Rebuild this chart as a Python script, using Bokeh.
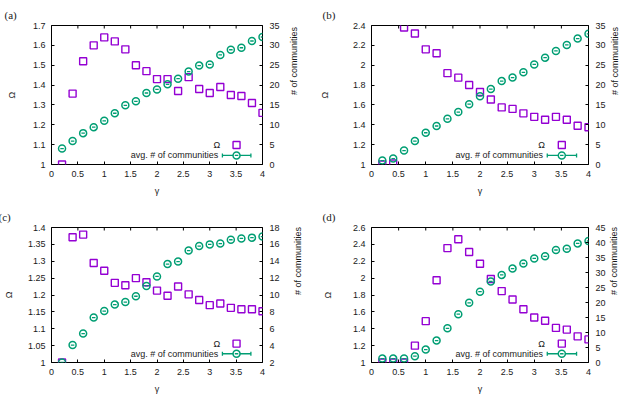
import numpy as np
from bokeh.plotting import figure
from bokeh.models import Range1d, LinearAxis, FixedTicker, CustomJSTickFormatter
from bokeh.layouts import gridplot
from bokeh.embed import file_html
from bokeh.resources import INLINE
from bokeh.core.properties import value

# resolution parameter values shared by all four panels
gamma = [0.2, 0.4, 0.6, 0.8, 1.0, 1.2, 1.4, 1.6, 1.8, 2.0,
         2.2, 2.4, 2.6, 2.8, 3.0, 3.2, 3.4, 3.6, 3.8, 4.0]

# (a)
omega_a = [1.00, 1.357, 1.52, 1.60, 1.64, 1.62, 1.58, 1.50, 1.47, 1.43,
           1.43, 1.37, 1.44, 1.38, 1.36, 1.39, 1.35, 1.345, 1.31, 1.26]
comm_a = [4.0, 5.9, 7.9, 9.4, 11.0, 12.9, 14.9, 15.9, 18.0, 18.9,
          20.2, 21.6, 23.4, 24.9, 25.2, 27.6, 28.9, 29.4, 31.1, 32.1]

# (b)
omega_b = [1.00, 1.01, 2.38, 2.32, 2.16, 2.12, 1.92, 1.875, 1.80, 1.73,
           1.655, 1.575, 1.56, 1.515, 1.48, 1.45, 1.48, 1.45, 1.39, 1.375]
comm_b = [1.0, 1.5, 3.5, 5.9, 8.0, 9.7, 11.5, 13.2, 15.2, 17.2,
          19.0, 21.0, 21.9, 23.2, 25.2, 26.9, 28.6, 30.1, 31.7, 32.9]

# (c)
omega_c = [1.00, 1.371, 1.379, 1.295, 1.272, 1.236, 1.229, 1.25, 1.238, 1.213,
           1.198, 1.225, 1.202, 1.185, 1.17, 1.175, 1.162, 1.158, 1.158, 1.152]
comm_c = [2.0, 4.06, 5.43, 7.33, 8.1, 8.86, 9.16, 9.85, 11.07, 12.2,
          13.66, 13.96, 15.26, 15.8, 16.0, 16.1, 16.55, 16.7, 16.8, 16.93]

# (d)
omega_d = [1.00, 1.00, 1.00, 1.20, 1.49, 1.975, 2.356, 2.46, 2.31, 2.17,
           1.99, 1.846, 1.747, 1.632, 1.533, 1.495, 1.41, 1.39, 1.31, 1.274]
comm_d = [1.3, 1.3, 1.3, 2.1, 4.3, 7.3, 11.4, 16.1, 19.9, 23.6,
          27.0, 29.2, 31.3, 33.0, 34.7, 35.4, 37.5, 37.9, 39.7, 40.5]

x_ticks = [0, 0.5, 1, 1.5, 2, 2.5, 3, 3.5, 4]

PURPLE = "#9400d3"
GREEN = "#009e73"
FONT = "Liberation Sans"
TXT = "#1a1a1a"
W, H = 314, 198

fmt = CustomJSTickFormatter(code="return String(parseFloat(tick.toFixed(3)));")


def style_axis(ax, standoff, label_standoff):
    ax.axis_line_color = None
    ax.major_tick_in = 3
    ax.major_tick_out = 0
    ax.major_tick_line_color = "black"
    ax.minor_tick_line_color = None
    ax.major_label_text_font = FONT
    ax.major_label_text_font_size = "9px"
    ax.major_label_text_color = TXT
    ax.major_label_standoff = standoff
    ax.axis_label_text_font = FONT
    ax.axis_label_text_font_size = "9px"
    ax.axis_label_text_font_style = "normal"
    ax.axis_label_text_color = TXT
    ax.axis_label_standoff = label_standoff
    ax.formatter = fmt


def panel(tag, omega, comm, yr, yticks, y2r, y2ticks, borders, lstand, rstand,
          tag_x, tag_standoff):
    left, right, top, bottom = borders
    p = figure(width=W, height=H, x_range=Range1d(0, 4), y_range=Range1d(*yr),
               output_backend="svg", toolbar_location=None,
               min_border_left=left, min_border_right=right,
               min_border_top=top, min_border_bottom=bottom)
    p.grid.visible = False
    p.outline_line_color = "black"
    p.outline_line_width = 1
    p.outline_line_alpha = 1
    p.background_fill_color = "white"
    p.border_fill_color = "white"

    # panel tag in the top-left corner
    p.title.text = tag
    p.title.align = "left"
    p.title.vertical_align = "top"
    p.title.offset = tag_x - left
    p.title.standoff = tag_standoff
    p.title.text_font = "Liberation Serif"
    p.title.text_font_size = "11px"
    p.title.text_font_style = "normal"
    p.title.text_color = TXT
    p.title.text_line_height = 0.5

    p.extra_y_ranges = {"n": Range1d(*y2r)}

    xa = p.xaxis[0]
    xa.ticker = FixedTicker(ticks=x_ticks)
    xa.axis_label = "γ"
    style_axis(xa, 6, 6)

    ya = p.yaxis[0]
    ya.ticker = FixedTicker(ticks=yticks)
    ya.axis_label = "Ω"
    style_axis(ya, 6, lstand)

    ra = LinearAxis(y_range_name="n", ticker=FixedTicker(ticks=y2ticks),
                    axis_label="# of communities")
    style_axis(ra, 7, rstand)
    ra.axis_label_orientation = np.pi / 2
    p.add_layout(ra, "right")

    y0, y1 = yr
    ys = y1 - y0
    n0, n1 = y2r
    ns = n1 - n0

    # inward tick marks mirrored along the top edge (upper half is clipped)
    p.scatter(x_ticks, [y1] * len(x_ticks), marker="dash", angle=np.pi / 2,
              size=6, line_color="black", line_width=1)

    # data
    p.scatter(gamma, omega, marker="square", size=7, fill_color=None,
              line_color=PURPLE, line_width=1.4)
    p.scatter(gamma, comm, y_range_name="n", marker="circle", size=7,
              fill_color=None, line_color=GREEN, line_width=1.5)
    p.scatter(gamma, comm, y_range_name="n", marker="dash", size=3.5,
              line_color=GREEN, line_width=1.3)

    # key in the lower right corner
    p.text(x=[0.80 * 4], y=[y0 + 0.14 * ys], text=["Ω"], text_align="right",
           text_baseline="middle", text_font=value(FONT), text_font_size="9px",
           text_color=TXT)
    p.text(x=[0.79 * 4], y=[y0 + 0.065 * ys], text=["avg. # of communities"],
           text_align="right", text_baseline="middle", text_font=value(FONT),
           text_font_size="9px", text_color=TXT)
    p.scatter([0.877 * 4], [y0 + 0.14 * ys], marker="square", size=7,
              fill_color=None, line_color=PURPLE, line_width=1.4)
    ky = n0 + 0.065 * ns
    p.segment(x0=[0.81 * 4], y0=[ky], x1=[0.945 * 4], y1=[ky], y_range_name="n",
              line_color=GREEN, line_width=1.3)
    p.scatter([0.81 * 4, 0.945 * 4], [ky, ky], y_range_name="n", marker="dash",
              angle=np.pi / 2, size=4, line_color=GREEN, line_width=1.3)
    p.scatter([0.877 * 4], [ky], y_range_name="n", marker="circle", size=7,
              fill_color="white", line_color=GREEN, line_width=1.5)
    p.scatter([0.877 * 4], [ky], y_range_name="n", marker="dash", size=3.5,
              line_color=GREEN, line_width=1.3)
    return p


pa = panel("(a)", omega_a, comm_a, (1, 1.7), [1, 1.1, 1.2, 1.3, 1.4, 1.5, 1.6, 1.7],
           (0, 35), list(range(0, 36, 5)), (43, 52, 25, 33), 13, 11, -4, 5)
pb = panel("(b)", omega_b, comm_b, (1, 2.4), [1, 1.2, 1.4, 1.6, 1.8, 2, 2.2, 2.4],
           (0, 35), list(range(0, 36, 5)), (57, 40, 25, 33), 20, 6, 8, 5)
pc = panel("(c)", omega_c, comm_c, (1, 1.4),
           [1, 1.05, 1.1, 1.15, 1.2, 1.25, 1.3, 1.35, 1.4],
           (2, 18), list(range(2, 19, 2)), (49, 52, 29, 29), 11, 15, -4, 5)
pd_ = panel("(d)", omega_d, comm_d, (1, 2.6),
            [1, 1.2, 1.4, 1.6, 1.8, 2, 2.2, 2.4, 2.6],
            (0, 45), list(range(0, 46, 5)), (57, 39, 29, 29), 17, 5, 8, 5)

grid = gridplot([[pa, pb], [pc, pd_]], toolbar_location=None)

open("out.html", "w").write(file_html(grid, INLINE))
